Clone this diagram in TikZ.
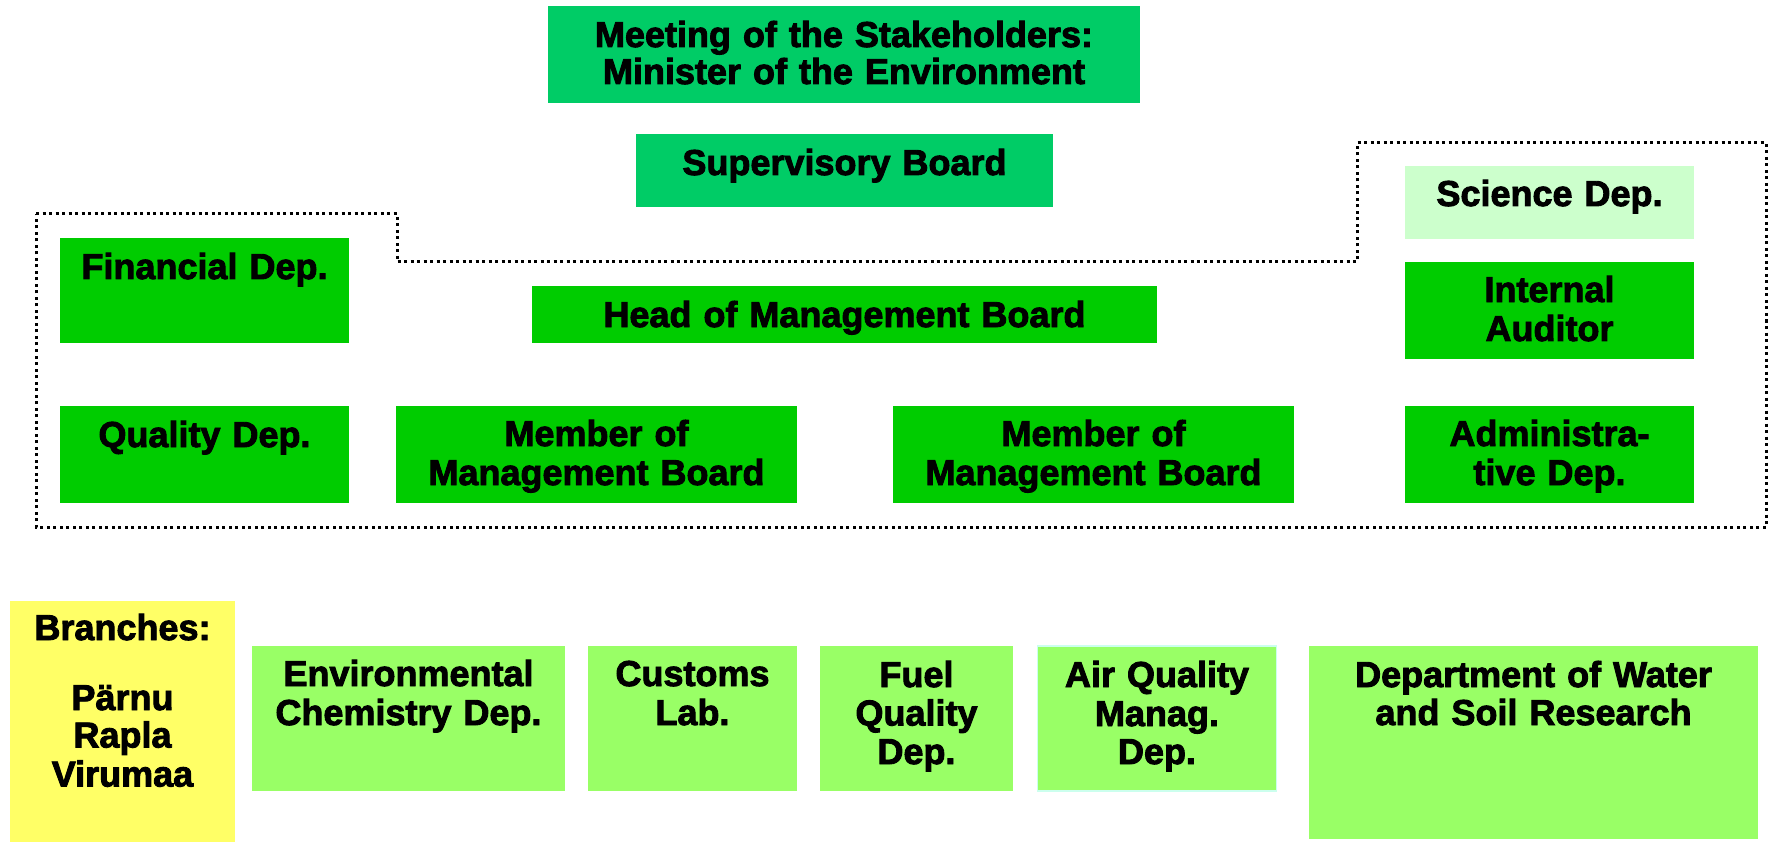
\documentclass[tikz,border=0pt]{standalone}
\usepackage{fontspec}
\setmainfont{Liberation Sans}
\newfontfamily\heavyfont{Liberation Sans Bold}[FakeBold=2.5]
\begin{document}
\definecolor{stakegreen}{HTML}{00CC66}
\definecolor{deptgreen}{HTML}{00CC00}
\definecolor{sciencegreen}{HTML}{CCFFCC}
\definecolor{labgreen}{HTML}{99FF66}
\definecolor{branchyellow}{HTML}{FFFF66}
\definecolor{airborder}{HTML}{CCFFEE}
\begin{tikzpicture}[x=1pt,y=-1pt,
  box/.style={anchor=base, inner sep=0pt, align=center,
    font={\fontsize{36}{39}\heavyfont\selectfont}},
  outline/.style={line width=3pt, dash pattern=on 3pt off 3.5pt}]
\useasboundingbox (0,0) rectangle (1775,842);
% top
\node[box, fill=stakegreen, text width=592pt, text height=41pt, text depth=56pt] (meet) at (844,47) {Meeting of the Stakeholders:\\[-2pt] Minister of the Environment};
\node[box, fill=stakegreen, text width=417pt, text height=41pt, text depth=32pt] (sup) at (844.5,175) {Supervisory Board};
% management
\node[box, fill=deptgreen, text width=289pt, text height=41pt, text depth=64pt] (fin) at (204.5,279) {Financial Dep.};
\node[box, fill=deptgreen, text width=625pt, text height=41pt, text depth=16pt] (head) at (844.5,327) {Head of Management Board};
\node[box, fill=sciencegreen, text width=289pt, text height=40pt, text depth=33pt] (sci) at (1549.5,206) {Science Dep.};
\node[box, fill=deptgreen, text width=289pt, text height=40pt, text depth=57pt] (aud) at (1549.5,302) {Internal\\ Auditor};
\node[box, fill=deptgreen, text width=289pt, text height=41pt, text depth=56pt] (qual) at (204.5,447) {Quality Dep.};
\node[box, fill=deptgreen, text width=401pt, text height=40pt, text depth=57pt] (mem1) at (596.5,446) {Member of\\ Management Board};
\node[box, fill=deptgreen, text width=401pt, text height=40pt, text depth=57pt] (mem2) at (1093.5,446) {Member of\\ Management Board};
\node[box, fill=deptgreen, text width=289pt, text height=40pt, text depth=57pt] (adm) at (1549.5,446) {Administra-\\ tive Dep.};
% dotted outline
\coordinate (o1) at (36,214);
\coordinate (o2) at (397,214);
\coordinate (o3) at (397,262);
\coordinate (o4) at (1357,262);
\coordinate (o5) at (1357,143);
\coordinate (o6) at (1766,143);
\coordinate (o7) at (1766,527);
\coordinate (o8) at (36,527);
\draw[outline] (o1) -- (o2) -- (o3) -- (o4) -- (o5) -- (o6) -- (o7) -- (o8) -- cycle;
% bottom
\node[box, fill=branchyellow, text width=225pt, text height=39pt, text depth=202pt] (br) at (122.5,640) {Branches:\\[31pt] Pärnu\\[-1.5pt] Rapla\\ Virumaa};
\node[box, fill=labgreen, text width=313pt, text height=40pt, text depth=105pt] (env) at (408.5,686) {Environmental\\ Chemistry Dep.};
\node[box, fill=labgreen, text width=209pt, text height=40pt, text depth=105pt] (cust) at (692.5,686) {Customs\\ Lab.};
\node[box, fill=labgreen, text width=193pt, text height=41pt, text depth=104pt] (fuel) at (916.5,687) {Fuel\\[-0.5pt] Quality\\[-0.5pt] Dep.};
\node[box, fill=labgreen, draw=airborder, line width=1.5pt, text width=239pt, text height=41pt, text depth=104pt] (air) at (1157,687) {Air Quality\\ Manag.\\[-1pt] Dep.};
\node[box, fill=labgreen, text width=449pt, text height=41pt, text depth=152pt] (water) at (1533.5,687) {Department of Water\\[-1pt] and Soil Research};
\end{tikzpicture}
\end{document}
